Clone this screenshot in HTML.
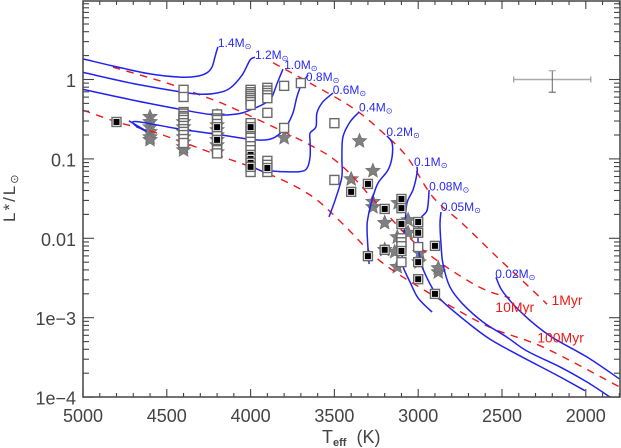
<!DOCTYPE html>
<html lang="en">
<head>
<meta charset="utf-8">
<title>HR diagram</title>
<style>
html,body{margin:0;padding:0;background:#fff;}
svg{display:block;font-family:"Liberation Sans",sans-serif;}
</style>
</head>
<body>
<svg id="chart" xmlns="http://www.w3.org/2000/svg" width="621" height="448" viewBox="0 0 621 448"></svg>
<script>
// ---- tick labels ----
const xMajorTicks = [5000, 4500, 4000, 3500, 3000, 2500, 2000];
const yMajorTicks = [0, -1, -2, -3, -4];
const yTickLabels = ["1", "0.1", "0.01", "1e\u22123", "1e\u22124"];

// ---- mass tracks: [Teff, log10 L] ----
const track14 = [[5000,.26],[4821,.17],[4600,.07],[4421,.03],[4320,.04],[4260,.085],[4230,.16],[4212,.29],[4195,.41]];
const track12 = [[5000,.09],[4702,-.05],[4421,-.155],[4302,-.185],[4200,-.17],[4123,-.11],[4051,.055],[4003,.245],[3974,.28]];
const track10 = [[5000,-.125],[4702,-.26],[4421,-.375],[4224,-.445],[4081,-.435],[4003,-.385],[3902,-.285],[3872,-.215],[3842,-.05],[3807,.13]];
const track08 = [[4726,-.52],[4624,-.65],[4690,-.575],[4678,-.53],[4421,-.625],[4200,-.69],[4003,-.755],[3902,-.76],[3842,-.71],[3783,-.575],[3747,-.42],[3723,-.215],[3693,-.045],[3657,.055]];
const track06 = [[3974,-1.115],[3884,-1.2],[3910,-1.15],[3824,-1.16],[3705,-1.16],[3663,-1.115],[3645,-.97],[3645,-.785],[3645,-.675],[3610,-.595],[3604,-.42],[3568,-.28],[3508,-.17]];
const track04 = [[3532,-1.73],[3496,-1.52],[3456,-1.23],[3455,-.975],[3449,-.725],[3407,-.535],[3353,-.41]];
const track02 = [[3293,-2.325],[3305,-1.91],[3299,-1.73],[3270,-1.48],[3240,-1.305],[3180,-1.14],[3156,-.975],[3156,-.8],[3186,-.71]];
const track01 = [[2917,-2.93],[3001,-2.75],[3049,-2.55],[3090,-2.36],[3096,-2.25],[3079,-1.83],[3067,-1.555],[3031,-1.39],[3007,-1.18],[3007,-1.1]];
const track008 = [[2935,-1.39],[2947,-1.645],[2989,-1.77],[3001,-2.06],[2989,-2.25],[2977,-2.36],[2912,-2.64],[2852,-2.8],[2709,-3.055],[2572,-3.27],[2393,-3.48],[2154,-3.745],[2005,-3.92]];
const track005 = [[2864,-1.67],[2870,-1.82],[2864,-2.07],[2852,-2.325],[2810,-2.615],[2733,-2.83],[2613,-3.055],[2470,-3.245],[2351,-3.42],[2154,-3.62],[1993,-3.81],[1855,-4.0]];
const track002 = [[2536,-2.49],[2494,-2.675],[2375,-2.955],[2213,-3.23],[1993,-3.495],[1800,-3.77]];
const trackSeries = [track14, track12, track10, track08, track06, track04, track02, track01, track008, track005, track002];
const trackNames = ["1.4", "1.2", "1.0", "0.8", "0.6", "0.4", "0.2", "0.1", "0.08", "0.05", "0.02"];

// ---- isochrones: [Teff, log10 L] ----
const iso1Myr = [[3866,.21],[3645,-.045],[3389,-.36],[3216,-.66],[3067,-.975],[2912,-1.48],[2733,-1.82],[2530,-2.235],[2375,-2.54],[2231,-2.83]];
const iso10Myr = [[4821,.155],[4499,-.045],[4302,-.195],[4105,-.36],[3645,-.825],[3449,-1.1],[3228,-1.605],[2972,-2.145],[2649,-2.6],[2452,-2.75]];
const iso100Myr = [[5000,-.385],[4797,-.535],[4558,-.675],[4200,-.95],[3902,-1.18],[3645,-1.455],[3449,-1.82],[3228,-2.285],[2947,-2.675],[2589,-3.105],[2255,-3.37],[1800,-3.87]];
const isoSeries = [iso1Myr, iso10Myr, iso100Myr];
const isoNames = ["1Myr", "10Myr", "100Myr"];

// ---- observed objects: [Teff, log10 L] ----
const starPoints = [[4600,-.47],[4600,-.535],[4600,-.6],[4600,-.66],[4600,-.725],[4600,-.76],
[4400,-.535],[4400,-.6],[4400,-.66],[4400,-.725],[4400,-.79],[4400,-.85],[4400,-.89],
[4200,-.46],[4200,-.575],[4200,-.635],[4200,-.7],[4200,-.76],[4200,-.825],[4200,-.915],
[3800,-.735],[3350,-.775],[3270,-1.15],[3400,-1.255],[3270,-1.605],[3270,-1.54],[3200,-1.805],[3200,-2.145],
[3120,-1.555],[3060,-1.77],[3060,-1.93],[3125,-1.985],[2990,-2.185],[3140,-2.17],[3125,-2.36],[2880,-2.425],[2880,-2.375],[2995,-2.3]];
const openSquares = [[4400,-.13],[4400,-.22],[4400,-.41],[4400,-.43],[4400,-.46],[4400,-.48],[4400,-.51],[4400,-.55],[4400,-.585],[4400,-.625],[4400,-.66],[4400,-.7],[4400,-.75],[4400,-.8],
[4200,-.44],[4200,-.49],[4200,-.51],[4200,-.56],[4200,-.63],[4200,-.66],[4200,-.71],[4200,-.825],[4200,-.86],[4200,-.89],[4200,-.93],
[4000,-.13],[4000,-.16],[4000,-.185],[4000,-.21],[4000,-.235],[4000,-.26],[4000,-.285],[4000,-.32],[4000,-.55],[4000,-.635],[4000,-.685],[4000,-.735],[4000,-.785],[4000,-.84],[4000,-.89],[4000,-1.165],
[3900,-.105],[3900,-.14],[3900,-.17],[3900,-.2],[3900,-.235],[3900,-.42],[3900,-1.025],[3900,-1.075],[3900,-1.165],
[3800,-.08],[3800,-.61],[3700,-.045],[3500,-.55],[3500,-1.265],
[3100,-2.0],[3100,-2.05],[3100,-2.1],[3100,-2.3],[3000,-2.11]];
const filledSquares = [[4800,-.535],[4200,-.6],[4200,-.76],[4000,-.6],[4000,-.95],[4000,-1.0],[4000,-1.05],[4000,-1.1],[3900,-1.115],
[3300,-1.315],[3400,-1.415],[3200,-1.63],[3100,-1.505],[3100,-1.62],[3100,-1.82],[3000,-1.795],[3000,-1.93],[2900,-2.095],
[3200,-2.145],[3300,-2.225],[3100,-2.16],[3000,-2.3],[3000,-2.515],[2900,-2.7]];

// ---- typical error bar ----
const errorT = 2200;
const errorTLow = 2430;
const errorTHigh = 1970;
const errorLogL = 0;
const errorLogLHigh = 0.11;
const errorLogLLow = -0.16;

// ---- axis functions ----
const xScale = t => 83 + (5000 - t) * 0.1676;
const yScale = l => 79.5 - 79.4 * l;
const NS = "http://www.w3.org/2000/svg";
const svg = document.getElementById("chart");
const AXIS = "#444";
const BLUE = "#2222f0";
const RED = "#f01818";

function el(tag, attrs, parent) {
  const e = document.createElementNS(NS, tag);
  for (const k in attrs) e.setAttribute(k, attrs[k]);
  (parent || svg).appendChild(e);
  return e;
}
function group(name) {
  const g = el("g", {});
  
  
  return g;
}
function smoothPath(pts) {
  const p = pts.map(d => [xScale(d[0]), yScale(d[1])]);
  let s = "M" + p[0][0].toFixed(1) + " " + p[0][1].toFixed(1);
  for (let i = 0; i < p.length - 1; i++) {
    const a = p[Math.max(i - 1, 0)], b = p[i], c = p[i + 1], d = p[Math.min(i + 2, p.length - 1)];
    const c1x = b[0] + (c[0] - a[0]) / 6, c1y = b[1] + (c[1] - a[1]) / 6;
    const c2x = c[0] - (d[0] - b[0]) / 6, c2y = c[1] - (d[1] - b[1]) / 6;
    s += "C" + [c1x, c1y, c2x, c2y, c[0], c[1]].map(v => v.toFixed(1)).join(" ");
  }
  return s;
}

// ---- stars (below the lines) ----
const starGroup = group("star-markers");
starPoints.forEach(d => {
  const cx = xScale(d[0]), cy = yScale(d[1]);
  let pts = [];
  for (let i = 0; i < 10; i++) {
    const r = i % 2 ? 3.4 : 7.6, a = -Math.PI / 2 + i * Math.PI / 5;
    pts.push((cx + r * Math.cos(a)).toFixed(1) + "," + (cy + r * Math.sin(a)).toFixed(1));
  }
  const s = el("polygon", {points: pts.join(" "), fill: "#808080", stroke: "#6a6a6a", "stroke-width": 0.6}, starGroup);
  
  
});

// ---- isochrones ----
isoSeries.forEach((pts, i) => {
  const p = el("path", {d: smoothPath(pts), fill: "none", stroke: RED, "stroke-width": 1.4, "stroke-dasharray": "7.5 6.5"});
  
  
});

// ---- mass tracks ----
trackSeries.forEach((pts, i) => {
  const p = el("path", {d: smoothPath(pts), fill: "none", stroke: BLUE, "stroke-width": 1.5});
  
  
});

// ---- squares ----
const squareGroup = group("square-markers");
function square(d, filled) {
  const cx = xScale(d[0]), cy = yScale(d[1]);
  const r = el("rect", {x: cx - 4.5, y: cy - 4.5, width: 9, height: 9, fill: "#fff", stroke: "#6a6a6a", "stroke-width": 1.4}, squareGroup);
  
  
  if (filled) {
    const c = el("rect", {x: cx - 3, y: cy - 3, width: 6, height: 6, fill: "#000"}, squareGroup);
    
    
  }
}
openSquares.forEach(d => square(d, false));
filledSquares.forEach(d => square(d, true));

// ---- error bar ----
const errGroup = group("typical-error-bar");
const ex1 = xScale(errorTLow), ex2 = xScale(errorTHigh), ey = yScale(errorLogL), ex = xScale(errorT);
const ey1 = yScale(errorLogLHigh), ey2 = yScale(errorLogLLow);
el("line", {x1: ex1, x2: ex2, y1: ey, y2: ey, stroke: "#aaa", "stroke-width": 1.5}, errGroup);
el("line", {x1: ex1, x2: ex1, y1: ey - 3, y2: ey + 3, stroke: "#888", "stroke-width": 1}, errGroup);
el("line", {x1: ex2, x2: ex2, y1: ey - 3, y2: ey + 3, stroke: "#888", "stroke-width": 1}, errGroup);
el("line", {x1: ex, x2: ex, y1: ey1, y2: ey2, stroke: "#666", "stroke-width": 1}, errGroup);
el("line", {x1: ex - 3.5, x2: ex + 3.5, y1: ey1, y2: ey1, stroke: "#999", "stroke-width": 1}, errGroup);
el("line", {x1: ex - 3.5, x2: ex + 3.5, y1: ey2, y2: ey2, stroke: "#555", "stroke-width": 1}, errGroup);

// ---- frame and ticks ----
const LEFT = 83, RIGHT = 620, TOP = 1, BOTTOM = 397;
const frame = el("rect", {x: LEFT, y: TOP, width: RIGHT - LEFT, height: BOTTOM - TOP, fill: "none", stroke: AXIS, "stroke-width": 1.5});


const tickGroup = group("axis-ticks");
function tick(x1, y1, x2, y2) {
  el("line", {x1, y1, x2, y2, stroke: AXIS, "stroke-width": 1.1}, tickGroup);
}
for (let t = 5000; t >= 1800; t -= 100) {
  const x = xScale(t), len = t % 500 === 0 ? 8 : 4;
  tick(x, BOTTOM, x, BOTTOM - len);
  tick(x, TOP, x, TOP + len);
}
for (let dec = 0; dec >= -4; dec--) {
  tick(LEFT, yScale(dec), LEFT + 11, yScale(dec));
  tick(RIGHT, yScale(dec), RIGHT - 11, yScale(dec));
}
for (let dec = 1; dec >= -4; dec--) {
  for (let m = 2; m <= 9; m++) {
    const l = dec - 1 + Math.log10(m);
    if (l < -4) continue;
    const y = yScale(l);
    tick(LEFT, y, LEFT + 6, y);
    tick(RIGHT, y, RIGHT - 6, y);
  }
}

// ---- tick labels ----
xMajorTicks.forEach(t => {
  const e = el("text", {x: xScale(t), y: 422, "text-anchor": "middle", "font-size": 18, fill: "#444"});
  e.textContent = t;
  
  
});
yMajorTicks.forEach((l, i) => {
  const e = el("text", {x: 76, y: yScale(l) + 7.5, "text-anchor": "end", "font-size": 18, fill: "#444"});
  e.textContent = yTickLabels[i];
  
  
});
</script>

<script>
// ---- annotation labels ----
const trackLabelTexts = ["1.4", "1.2", "1.0", "0.8", "0.6", "0.4", "0.2", "0.1", "0.08", "0.05", "0.02"];
const trackLabelT = [4195, 3974, 3800, 3670, 3510, 3353, 3190, 3025, 2935, 2865, 2540];
const trackLabelLogL = [.41, .26, .13, -.02, -.185, -.4, -.71, -1.09, -1.4, -1.655, -2.5];
const isoLabelTexts = ["1Myr", "10Myr", "100Myr"];
const isoLabelT = [2205, 2540, 2290];
const isoLabelLogL = [-2.84, -2.93, -3.31];

trackLabelTexts.forEach((m, i) => {
  const t = el("text", {x: xScale(trackLabelT[i]), y: yScale(trackLabelLogL[i]), "font-size": 12, fill: "#2a2af5"});
  
  
  t.appendChild(document.createTextNode(m + "M"));
  const sun = el("tspan", {"font-size": 8, dy: 2, "font-family": '"DejaVu Sans",sans-serif'}, t);
  sun.textContent = "\u2299";
});
isoLabelTexts.forEach((m, i) => {
  const t = el("text", {x: xScale(isoLabelT[i]), y: yScale(isoLabelLogL[i]), "font-size": 14, fill: "#f01818"});
  t.textContent = m;
  
  
});

// ---- axis titles ----
const xt = el("text", {x: 322, y: 443, "font-size": 18, fill: "#444"});


xt.appendChild(document.createTextNode("T"));
const sub = el("tspan", {"font-size": 11, "font-weight": "bold", dy: 3}, xt);
sub.textContent = "eff";
const unit = el("tspan", {dy: -3, dx: 10}, xt);
unit.textContent = "(K)";

const yt = el("text", {transform: "translate(15,222) rotate(-90)", "font-size": 17, fill: "#444", "letter-spacing": 2});


yt.appendChild(document.createTextNode("L*/L"));
const ysun = el("tspan", {"font-size": 11, dy: 3, "font-family": '"DejaVu Sans",sans-serif'}, yt);
ysun.textContent = "\u2299";
</script>
</body>
</html>
